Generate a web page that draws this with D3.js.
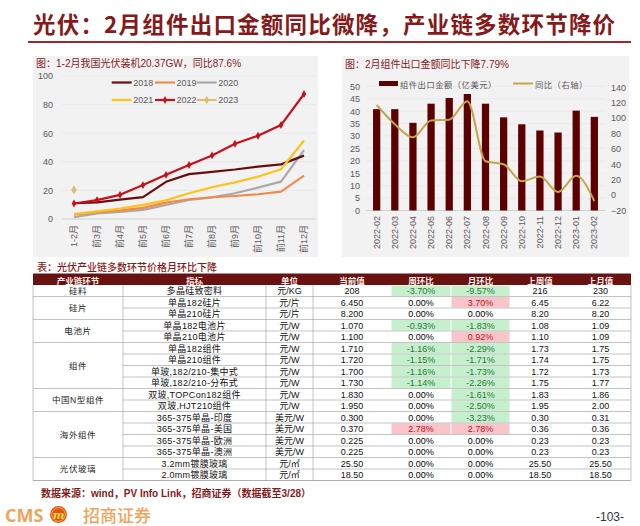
<!DOCTYPE html>
<html><head><meta charset="utf-8">
<script src="https://cdn.jsdelivr.net/npm/d3@7/dist/d3.min.js"></script>
<style>body{margin:0;background:#fff;}svg{display:block;}</style>
</head><body>
<svg id="c" width="640" height="526"></svg>
<script>
// ---------- DATA ----------
const pageTitle = "光伏：2月组件出口金额同比微降，产业链多数环节降价";
const leftTitle = "图：1-2月我国光伏装机20.37GW，同比87.6%";
const rightTitle = "图：2月组件出口金额同比下降7.79%";
const tableTitle = "表：光伏产业链多数环节价格月环比下降";
const sourceNote = "数据来源：wind，PV Info Link，招商证券（数据截至3/28）";
const pageNo = "-103-";

const leftCategories = ["1-2月","前3月","前4月","前5月","前6月","前7月","前8月","前9月","前10月","前11月","前12月"];
const leftTicks = [0,20,40,60,80,100];
const seriesNames = ["2018","2019","2020","2021","2022","2023"];
const s2018 = [11.0,11.6,13.5,15.3,26.0,31.4,33.0,34.6,36.6,38.2,44.3];
const s2019 = [3.0,5.0,6.0,7.8,11.4,13.8,15.2,16.1,17.3,19.1,30.3];
const s2020 = [1.2,3.9,5.0,6.4,9.8,13.3,15.1,18.0,21.9,26.1,48.2];
const s2021 = [3.5,5.3,7.2,9.9,13.0,18.0,22.2,25.6,29.6,34.8,54.9];
const s2022 = [10.86,13.21,16.88,23.71,30.88,37.73,44.47,52.6,58.24,65.71,87.41];
const s2023 = [20.37];
const seriesColors = ["#6b0d0d","#f28a4c","#a9a9a9","#ffc21a","#c8101a","#d9bf78"];

const months = ["2022-02","2022-03","2022-04","2022-05","2022-06","2022-07","2022-08","2022-09","2022-10","2022-11","2022-12","2023-01","2023-02"];
const exportValue = [40.8,40.8,35.3,43.0,45.3,46.9,43.0,37.5,34.7,32.2,31.4,40.2,37.7];
const exportYoY = [117,92,75,97,98,122,44,40,18,24,4,25,-7.79];
const rightLeftTicks = [0,5,10,15,20,25,30,35,40,45,50];
const rightRightTicks = [-20,0,20,40,60,80,100,120,140];
const barLegend = "组件出口金额（亿美元）";
const lineLegend = "同比（右轴）";

const tableHeaders = ["产业链环节","指标","单位","当前值","周环比","月环比","上周值","上月值"];
const groupNames = ["硅料","硅片","电池片","组件","中国N型组件","海外组件","光伏玻璃"];
const groupSizes = [1,2,2,4,2,4,2];
const indicators = ["多晶硅致密料","单晶182硅片","单晶210硅片","单晶182电池片","单晶210电池片","单晶182组件","单晶210组件","单玻,182/210-集中式","单玻,182/210-分布式","双玻,TOPCon182组件","双玻,HJT210组件","365-375单晶-印度","365-375单晶-美国","365-375单晶-欧洲","365-375单晶-澳洲","3.2mm镀膜玻璃","2.0mm镀膜玻璃"];
const units = ["元/KG","元/片","元/片","元/W","元/W","元/W","元/W","元/W","元/W","元/W","元/W","美元/W","美元/W","美元/W","美元/W","元/㎡","元/㎡"];
const currentVal = ["208","6.450","8.200","1.070","1.100","1.710","1.720","1.700","1.730","1.830","1.950","0.300","0.370","0.225","0.225","25.50","18.50"];
const wowChange = [-3.70,0.00,0.00,-0.93,0.00,-1.16,-1.15,-1.16,-1.14,0.00,0.00,0.00,2.78,0.00,0.00,0.00,0.00];
const momChange = [-9.57,3.70,0.00,-1.83,0.92,-2.29,-1.71,-1.73,-2.26,-1.61,-2.50,-3.23,2.78,0.00,0.00,0.00,0.00];
const lastWeek = ["216","6.45","8.20","1.08","1.10","1.73","1.74","1.72","1.75","1.83","1.95","0.30","0.36","0.23","0.23","25.50","18.50"];
const lastMonth = ["230","6.22","8.20","1.09","1.09","1.75","1.75","1.73","1.77","1.86","2.00","0.31","0.36","0.23","0.23","25.50","18.50"];

// ---------- STYLE ----------
const CJK = "'Noto Sans CJK SC', sans-serif";
const MIX = "'Liberation Sans','Noto Sans CJK SC', sans-serif";
const DARKRED = "#861a1a";
const AXIS = "#595959";

const svg = d3.select("#c");
svg.append("rect").attr("width",640).attr("height",526).attr("fill","#fff");

// ---------- PAGE TITLE ----------
svg.append("text").attr("x",33).attr("y",22.5).attr("dominant-baseline","central")
  .attr("font-family",CJK).attr("font-weight",700).attr("font-size",22.5).attr("letter-spacing",1.2)
  .attr("fill",DARKRED).text(pageTitle);
svg.append("line").attr("x1",28).attr("x2",631).attr("y1",42).attr("y2",42)
  .attr("stroke","#9b2a2a").attr("stroke-width",2);

// ---------- LEFT CHART ----------
const L = svg.append("g");
L.append("rect").attr("x",33).attr("y",56).attr("width",285).attr("height",201).attr("fill","#f2f2f2");
L.append("text").attr("x",36).attr("y",63).attr("dominant-baseline","central")
  .attr("font-family",MIX).attr("font-size",10).attr("fill",DARKRED).text(leftTitle);

const xL = d3.scalePoint().domain(leftCategories).range([74,304]);
const yL = d3.scaleLinear().domain([0,100]).range([219,76]);

L.append("g").selectAll("line").data(leftTicks.slice(1)).join("line")
  .attr("x1",62).attr("x2",316).attr("y1",d=>yL(d)).attr("y2",d=>yL(d))
  .attr("stroke","#e6e6e6").attr("stroke-width",0.8);
L.append("line").attr("x1",62).attr("x2",316).attr("y1",yL(0)).attr("y2",yL(0))
  .attr("stroke","#d0d0d0").attr("stroke-width",1);

const yAxisL = L.append("g").attr("transform","translate(56,0)")
  .call(d3.axisLeft(yL).tickValues(leftTicks).tickSize(0).tickPadding(3));
yAxisL.select(".domain").remove();
yAxisL.selectAll("text").attr("font-family",MIX).attr("font-size",9).attr("fill",AXIS);

L.append("g").selectAll("text").data(leftCategories).join("text")
  .attr("transform",d=>`translate(${xL(d)},225) rotate(-90)`)
  .attr("text-anchor","end").attr("dominant-baseline","central")
  .attr("font-family",MIX).attr("font-size",9).attr("fill",AXIS).text(d=>d);

const allSeries = [s2018,s2019,s2020,s2021,s2022,s2023];
const lineGen = d3.line().x((d,i)=>xL(leftCategories[i])).y(d=>yL(d));
[2,1,0,3,4].forEach(k=>{
  L.append("path").datum(allSeries[k]).attr("d",lineGen).attr("fill","none")
    .attr("stroke",seriesColors[k]).attr("stroke-width",2.2).attr("stroke-linejoin","round");
});
const diamond = d3.symbol().type(d3.symbolDiamond);
L.append("g").selectAll("path").data(s2022).join("path")
  .attr("transform",(d,i)=>`translate(${xL(leftCategories[i])},${yL(d)})`)
  .attr("d",diamond.size(18)()).attr("fill",seriesColors[4]);
L.append("g").selectAll("path").data(s2023).join("path")
  .attr("transform",(d,i)=>`translate(${xL(leftCategories[i])},${yL(d)})`)
  .attr("d",d3.symbol().type(d3.symbolDiamond).size(26)()).attr("fill",seriesColors[5]);

// legend
const legX = [111.7,155,196.7], legY = [82.5,100];
seriesNames.forEach((n,i)=>{
  const x0 = legX[i%3], y0 = legY[Math.floor(i/3)];
  L.append("line").attr("x1",x0).attr("x2",x0+20).attr("y1",y0).attr("y2",y0)
    .attr("stroke",seriesColors[i]).attr("stroke-width",2.2);
  if(i>=4){
    L.append("path").attr("transform",`translate(${x0+10},${y0})`)
      .attr("d",d3.symbol().type(d3.symbolDiamond).size(i===4?18:22)()).attr("fill",seriesColors[i]);
  }
  L.append("text").attr("x",x0+21.5).attr("y",y0).attr("dominant-baseline","central")
    .attr("font-family",MIX).attr("font-size",9).attr("fill",AXIS).text(n);
});

// ---------- RIGHT CHART ----------
const R = svg.append("g");
R.append("rect").attr("x",342).attr("y",56).attr("width",287).attr("height",201).attr("fill","#f2f2f2");
R.append("text").attr("x",345).attr("y",64).attr("dominant-baseline","central")
  .attr("font-family",MIX).attr("font-size",10).attr("fill",DARKRED).text(rightTitle);

const xR = d3.scaleBand().domain(months).range([367.6,603.4]).paddingInner(0.6).paddingOuter(0.3);
const yRL = d3.scaleLinear().domain([0,50]).range([210.5,86.3]);
const yRR = d3.scaleLinear().domain([-20,140]).range([210.5,87.3]);

R.append("g").selectAll("line").data(rightLeftTicks.slice(1)).join("line")
  .attr("x1",366).attr("x2",605).attr("y1",d=>yRL(d)).attr("y2",d=>yRL(d))
  .attr("stroke","#e8e8e8").attr("stroke-width",0.8);
R.append("line").attr("x1",366).attr("x2",605).attr("y1",yRL(0)).attr("y2",yRL(0))
  .attr("stroke","#d0d0d0").attr("stroke-width",1);

const ayL = R.append("g").attr("transform","translate(363,0)")
  .call(d3.axisLeft(yRL).tickValues(rightLeftTicks).tickSize(0).tickPadding(3));
ayL.select(".domain").remove();
ayL.selectAll("text").attr("font-family",MIX).attr("font-size",9).attr("fill",AXIS);
const ayR = R.append("g").attr("transform","translate(608,0)")
  .call(d3.axisRight(yRR).tickValues(rightRightTicks).tickSize(0).tickPadding(3));
ayR.select(".domain").remove();
ayR.selectAll("text").attr("font-family",MIX).attr("font-size",9).attr("fill",AXIS);

R.append("g").selectAll("rect").data(exportValue).join("rect")
  .attr("x",(d,i)=>xR(months[i])).attr("width",xR.bandwidth())
  .attr("y",d=>yRL(d)).attr("height",d=>yRL(0)-yRL(d)).attr("fill","#5c0000");

const yoyLine = d3.line().x((d,i)=>xR(months[i])+xR.bandwidth()/2).y(d=>yRR(d))
  .curve(d3.curveMonotoneX);
R.append("path").datum(exportYoY).attr("d",yoyLine).attr("fill","none")
  .attr("stroke","#c6a44c").attr("stroke-width",2);

R.append("g").selectAll("text").data(months).join("text")
  .attr("transform",d=>`translate(${xR(d)+xR.bandwidth()/2},216) rotate(-90)`)
  .attr("text-anchor","end").attr("dominant-baseline","central")
  .attr("font-family",MIX).attr("font-size",9).attr("fill",AXIS).text(d=>d);

R.append("rect").attr("x",379).attr("y",81).attr("width",19).attr("height",5).attr("fill","#5c0000");
R.append("text").attr("x",400).attr("y",83.5).attr("dominant-baseline","central")
  .attr("font-family",CJK).attr("font-size",8.3).attr("letter-spacing",0.5).attr("fill",AXIS).text(barLegend);
R.append("line").attr("x1",513).attr("x2",533).attr("y1",83.5).attr("y2",83.5)
  .attr("stroke","#c6a44c").attr("stroke-width",2);
R.append("text").attr("x",535).attr("y",83.5).attr("dominant-baseline","central")
  .attr("font-family",CJK).attr("font-size",8.3).attr("letter-spacing",0.5).attr("fill",AXIS).text(lineLegend);

// ---------- TABLE ----------
const T = svg.append("g");
T.append("text").attr("x",37).attr("y",266).attr("dominant-baseline","central")
  .attr("font-family",CJK).attr("font-size",10).attr("font-weight",500).attr("fill",DARKRED).text(tableTitle);

const colEdges = [33,123,266,313,391,451,510,570,631];
const colCenter = i => (colEdges[i]+colEdges[i+1])/2;
const nRows = indicators.length;
const yRow = d3.scaleLinear().domain([0,nRows]).range([285,480.5]);
const headTop = 273.5;

T.append("rect").attr("x",colEdges[0]).attr("y",headTop).attr("width",colEdges[8]-colEdges[0])
  .attr("height",yRow(0)-headTop).attr("fill","#6a1212");
T.append("g").selectAll("text").data(tableHeaders).join("text")
  .attr("x",(d,i)=>colCenter(i)).attr("y",(headTop+yRow(0))/2+0.3).attr("text-anchor","middle")
  .attr("dominant-baseline","central").attr("font-family",CJK).attr("font-size",8.5)
  .attr("font-weight",700).attr("fill","#fbeee6").text(d=>d);

// colored cells
const cellFill = v => v<0 ? "#c6efce" : (v>0 ? "#f8c5cb" : null);
const cellText = v => v<0 ? "#1f7a34" : (v>0 ? "#c0101a" : "#000");
[[wowChange,4],[momChange,5]].forEach(([arr,c])=>{
  T.append("g").selectAll("rect").data(arr.map((v,i)=>({v,i})).filter(d=>d.v!==0)).join("rect")
    .attr("x",colEdges[c]+0.5).attr("width",colEdges[c+1]-colEdges[c]-1)
    .attr("y",d=>yRow(d.i)+0.5).attr("height",d=>yRow(d.i+1)-yRow(d.i)-1)
    .attr("fill",d=>cellFill(d.v));
});

// grid lines
const groupStarts = [];
let acc=0; groupSizes.forEach(s=>{groupStarts.push(acc); acc+=s;});
const lineColor = "#9a9a9a";
for(let r=1;r<nRows;r++){
  const full = groupStarts.includes(r);
  T.append("line").attr("x1",full?colEdges[0]:colEdges[1]).attr("x2",colEdges[8])
    .attr("y1",yRow(r)).attr("y2",yRow(r)).attr("stroke",lineColor).attr("stroke-width",0.6);
}
T.append("line").attr("x1",colEdges[0]).attr("x2",colEdges[8]).attr("y1",yRow(nRows)).attr("y2",yRow(nRows))
  .attr("stroke",lineColor).attr("stroke-width",0.8);
[0,1,2,3,8].forEach(c=>{
  T.append("line").attr("x1",colEdges[c]).attr("x2",colEdges[c]).attr("y1",yRow(0)).attr("y2",yRow(nRows))
    .attr("stroke",lineColor).attr("stroke-width",0.6);
});

// group names
T.append("g").selectAll("text").data(groupNames).join("text")
  .attr("x",colCenter(0)).attr("y",(d,i)=>(yRow(groupStarts[i])+yRow(groupStarts[i]+groupSizes[i]))/2)
  .attr("text-anchor","middle").attr("dominant-baseline","central")
  .attr("font-family",MIX).attr("font-size",8.5).attr("letter-spacing",0.6).attr("fill","#222").text(d=>d);

const pct = v => v.toFixed(2)+"%";
const cols = [
  {arr:indicators, c:1, ls:0.3, fill:()=>"#111"},
  {arr:units, c:2, ls:0, fill:()=>"#111"},
  {arr:currentVal, c:3, ls:0, fill:()=>"#111"},
  {arr:wowChange.map(pct), c:4, ls:0, fill:(d,i)=>cellText(wowChange[i])},
  {arr:momChange.map(pct), c:5, ls:0, fill:(d,i)=>cellText(momChange[i])},
  {arr:lastWeek, c:6, ls:0, fill:()=>"#111"},
  {arr:lastMonth, c:7, ls:0, fill:()=>"#111"}
];
cols.forEach(col=>{
  T.append("g").selectAll("text").data(col.arr).join("text")
    .attr("x",colCenter(col.c)).attr("y",(d,i)=>(yRow(i)+yRow(i+1))/2+0.3)
    .attr("text-anchor","middle").attr("dominant-baseline","central")
    .attr("font-family",MIX).attr("font-size",9).attr("letter-spacing",col.ls)
    .attr("fill",col.fill).text(d=>d);
});

// ---------- FOOTER ----------
svg.append("text").attr("x",41).attr("y",493).attr("dominant-baseline","central")
  .attr("font-family",MIX).attr("font-size",10).attr("font-weight",700).attr("fill",DARKRED).text(sourceNote);

const logoColor = "#efa45c";
svg.append("text").attr("x",5).attr("y",514.5).attr("dominant-baseline","central")
  .attr("font-family","'Open Sans', sans-serif").attr("font-weight",700).attr("font-size",18)
  .attr("fill",logoColor).text("CMS");
svg.append("circle").attr("cx",58.5).attr("cy",514.5).attr("r",8.5).attr("fill","#df5418");
svg.append("circle").attr("cx",58.5).attr("cy",514.5).attr("r",6.8).attr("fill","none")
  .attr("stroke","#f7c640").attr("stroke-width",0.8);
svg.append("text").attr("x",58.5).attr("y",515).attr("text-anchor","middle").attr("dominant-baseline","central")
  .attr("font-family","'DejaVu Serif', serif").attr("font-style","italic").attr("font-weight",700)
  .attr("font-size",11).attr("fill","#ffd84a").text("m");
svg.append("text").attr("x",83).attr("y",514.5).attr("dominant-baseline","central")
  .attr("font-family",CJK).attr("font-weight",500).attr("font-size",17).attr("fill",logoColor).text("招商证券");
svg.append("text").attr("x",610).attr("y",517).attr("text-anchor","middle").attr("dominant-baseline","central")
  .attr("font-family",MIX).attr("font-size",12).attr("fill","#333").text(pageNo);
</script>
</body></html>
